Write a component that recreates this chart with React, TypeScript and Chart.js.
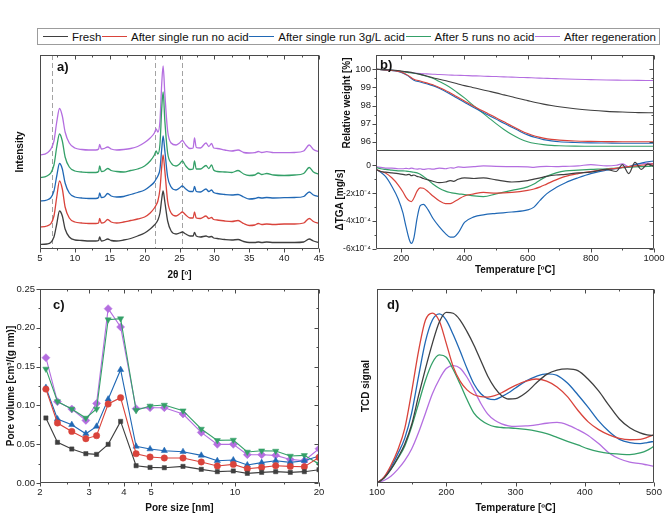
import React, { useEffect, useRef } from "react";
import { Chart, registerables } from "chart.js";
Chart.register(...registerables);

const FONT = '"Liberation Sans", Arial, sans-serif';

const seriesNames = ["Fresh", "After single run no acid", "After single run 3g/L acid", "After 5 runs no acid", "After regeneration"];
const seriesColors = ["#3f3f3f", "#d9433b", "#2068b5", "#34a068", "#b46ee0"];

// ---------- a) XRD ----------
const xrdTheta = [5, 6, 7, 7.4, 7.8, 8.2, 8.6, 9.2, 10, 11, 12, 13, 13.4, 13.55, 13.8, 14.2, 14.7, 15.2, 16, 17, 18, 19, 20, 20.8, 21.4, 21.65, 21.9, 22.2, 22.45, 22.65, 22.9, 23.3, 23.8, 24.5, 25.0, 25.4, 25.9, 26.5, 26.95, 27.15, 27.4, 28, 28.8, 29.2, 29.6, 29.9, 30.4, 31.5, 32.5, 33.4, 34.2, 35, 35.8, 36.3, 36.8, 37.5, 38.5, 40, 41.5, 42.8, 43.6, 44.2, 45];
const xrdFresh = [4.5, 5, 12, 25, 38, 33, 20, 12, 9, 8.5, 8, 8, 8.5, 12, 8, 8.5, 10, 8.5, 8, 9, 10.5, 13, 16, 20, 24, 26, 29, 36, 50, 58, 47, 28, 18, 15, 16, 17, 15, 13, 13, 16.5, 13, 12, 13, 12, 12.5, 11, 10.5, 9.5, 9, 9.5, 7.5, 6.5, 6.5, 7, 6.5, 7, 6.5, 6.5, 6.5, 7, 10, 8, 6.5];
const xrdNoAcid = [22, 23, 33, 52, 68, 60, 42, 31, 27, 26, 25.5, 25.5, 26, 30.5, 26, 26.5, 29.5, 27, 26, 27, 28.5, 30, 32, 36, 41, 44, 48, 60, 82, 94, 78, 48, 36, 33, 35, 37, 34, 31, 31, 37, 31, 30.5, 33, 30.5, 31.5, 29.5, 29, 28, 27.5, 28.5, 25.5, 23.5, 24, 25.5, 24.5, 25, 24.5, 25, 25, 26, 30.5, 27.5, 25.5];
const xrdAcid = [48, 49, 58, 73, 85.5, 80, 66, 56, 52, 51, 50.5, 50.5, 51.5, 56, 51.5, 52, 55.5, 53, 52, 52.5, 54.5, 56.5, 59, 63, 67, 70, 73, 80, 100, 113, 98, 72, 62, 59, 61, 63, 60, 57.5, 57.5, 62.5, 57.5, 57, 60, 57.5, 59, 56.5, 55.5, 54.5, 54, 54.5, 52, 50, 50.5, 51.5, 51, 51.5, 51, 51.3, 51.5, 52.5, 57, 54, 52.3];
const xrd5Runs = [71.5, 73, 84, 102, 115, 108, 92, 82, 78, 77, 76.5, 76.5, 77.5, 83, 77.5, 78, 80.5, 78.5, 77.5, 77, 78.5, 80, 83, 88, 94, 98, 95, 105, 140, 157, 128, 96, 86, 83, 85, 88, 83, 79.5, 80, 88, 80, 80, 83.5, 80.5, 84, 79, 77.5, 77, 76.5, 78.5, 75, 73.5, 74, 76, 74.5, 75.5, 74, 73.5, 74, 75.5, 81.5, 77, 74.7];
const xrdRegen = [94, 96, 108, 127, 140.5, 133, 117, 106, 101, 99.5, 99, 99, 100, 104.5, 100, 100.5, 102, 100, 99, 99.5, 100.5, 102.5, 106.5, 111, 116, 120, 117, 128, 165, 183, 155, 118, 106, 104, 106, 108.5, 104, 100.5, 101, 111, 101.5, 101, 106, 102.5, 105.5, 101, 100.5, 99, 98, 99, 96.5, 96, 96.3, 97.5, 96.5, 97.3, 96.3, 96.3, 96.5, 98, 104, 99.5, 97.3];
const xrdRefLines = [6.7, 21.5, 25.4];
const xrdTicks = [5, 10, 15, 20, 25, 30, 35, 40, 45];
const xrdMinor = [7.5, 12.5, 17.5, 22.5, 27.5, 32.5, 37.5, 42.5];

// ---------- b) TGA ----------
const tgaTemp = [120, 150, 180, 200, 220, 240, 260, 280, 300, 320, 350, 375, 400, 425, 450, 475, 500, 525, 550, 575, 600, 625, 650, 675, 700, 750, 800, 850, 900, 950, 1000];
const tgaFresh = [100, 99.98, 99.95, 99.91, 99.86, 99.8, 99.72, 99.63, 99.53, 99.45, 99.33, 99.22, 99.1, 99.0, 98.9, 98.8, 98.7, 98.59, 98.48, 98.37, 98.27, 98.17, 98.08, 98.0, 97.93, 97.82, 97.74, 97.68, 97.64, 97.61, 97.6];
const tgaNoAcid = [100, 99.97, 99.92, 99.85, 99.68, 99.45, 99.35, 99.25, 99.15, 99.0, 98.75, 98.5, 98.25, 98.0, 97.77, 97.55, 97.33, 97.1, 96.87, 96.65, 96.45, 96.3, 96.2, 96.13, 96.09, 96.04, 96.02, 96.01, 96.0, 96.0, 96.0];
const tgaAcid = [100, 99.97, 99.91, 99.83, 99.65, 99.4, 99.3, 99.2, 99.1, 98.95, 98.68, 98.43, 98.18, 97.93, 97.7, 97.48, 97.25, 97.02, 96.8, 96.58, 96.38, 96.23, 96.12, 96.05, 96.0, 95.96, 95.94, 95.93, 95.92, 95.92, 95.92];
const tga5Runs = [100, 99.97, 99.93, 99.88, 99.83, 99.78, 99.72, 99.62, 99.5, 99.33, 99.05, 98.75, 98.42, 98.05, 97.7, 97.35, 97.0, 96.68, 96.4, 96.17, 96.0, 95.9, 95.84, 95.8, 95.78, 95.76, 95.75, 95.75, 95.75, 95.75, 95.75];
const tgaRegen = [100, 99.97, 99.93, 99.88, 99.84, 99.8, 99.77, 99.75, 99.73, 99.71, 99.69, 99.67, 99.66, 99.64, 99.63, 99.61, 99.6, 99.58, 99.57, 99.55, 99.54, 99.52, 99.51, 99.49, 99.48, 99.45, 99.43, 99.41, 99.4, 99.39, 99.38];
const weightTicks = [96, 97, 98, 99, 100];
const weightMinor = [96.5, 97.5, 98.5, 99.5];

// ΔTGA in units of 1e-4 mg/s
const dtgaTemp = [120, 135, 150, 170, 190, 205, 215, 225, 232, 240, 250, 260, 270, 285, 300, 320, 340, 355, 365, 380, 400, 430, 460, 500, 550, 600, 620, 640, 660, 690, 720, 760, 800, 850, 880, 900, 920, 940, 960, 980, 1000];
const dtgaFresh = [-0.3, -0.45, -0.5, -0.55, -0.6, -0.65, -0.7, -0.65, -0.75, -0.7, -0.8, -0.85, -0.95, -1.05, -1.15, -1.25, -1.2, -1.1, -1.15, -1.0, -0.9, -0.95, -0.9, -1.05, -1.2, -1.1, -1.0, -0.9, -0.8, -0.7, -0.65, -0.55, -0.5, -0.3, -0.45, 0.05, -0.6, 0.2, -0.3, 0.1, -0.1];
const dtgaNoAcid = [-0.3, -0.45, -0.55, -0.9, -1.4, -1.9, -2.3, -2.55, -2.6, -2.35, -1.85, -1.62, -1.65, -1.9, -2.2, -2.55, -2.75, -2.75, -2.65, -2.45, -2.2, -2.05, -1.95, -2.0, -1.95, -1.8, -1.7, -1.55, -1.35, -1.05, -0.8, -0.6, -0.45, -0.3, -0.22, -0.15, -0.1, -0.05, 0, 0.05, 0.1];
const dtgaAcid = [-0.3, -0.5, -0.8, -1.5, -2.4, -3.4, -4.4, -5.3, -5.6, -5.2, -3.8, -2.9, -2.8, -3.2, -3.8, -4.4, -4.9, -5.15, -5.15, -4.85, -4.1, -3.7, -3.55, -3.45, -3.35, -3.2, -3.0, -2.5, -2.05, -1.6, -1.25, -0.9, -0.6, -0.35, -0.25, -0.15, -0.1, 0.05, 0.15, 0.25, 0.3];
const dtga5Runs = [-0.15, -0.25, -0.3, -0.35, -0.4, -0.4, -0.42, -0.45, -0.47, -0.5, -0.55, -0.65, -0.8, -1.05, -1.35, -1.65, -1.85, -1.95, -2.0, -2.05, -2.1, -2.2, -2.25, -2.05, -1.8, -1.55, -1.35, -1.05, -0.8, -0.55, -0.4, -0.35, -0.3, -0.25, -0.2, -0.18, -0.15, -0.12, -0.1, -0.08, -0.05];
const dtgaRegen = [-0.1, -0.15, -0.2, -0.2, -0.25, -0.25, -0.22, -0.25, -0.2, -0.25, -0.28, -0.25, -0.3, -0.25, -0.28, -0.2, -0.25, -0.18, -0.2, -0.12, -0.15, -0.1, -0.05, -0.08, -0.1, -0.12, -0.15, -0.1, -0.08, -0.1, -0.08, -0.05, 0.05, -0.05, 0, 0.1, -0.1, 0.05, 0.1, 0.15, 0.1];
const dtgaTicks = [-6, -4, -2, 0];
const dtgaMinor = [-5, -3, -1];
const tempTicks = [200, 400, 600, 800, 1000];
const tempMinor = [300, 500, 700, 900];

// ---------- c) Pore size distribution ----------
const poreSize = [2.1, 2.31, 2.6, 2.92, 3.19, 3.51, 3.89, 4.42, 4.96, 5.58, 6.51, 7.57, 8.64, 9.86, 11.07, 12.46, 13.99, 15.78, 17.72, 20.0];
const poreFresh = [0.0838, 0.0524, 0.0438, 0.0378, 0.0369, 0.0498, 0.0794, 0.0223, 0.0201, 0.0197, 0.0214, 0.0176, 0.0146, 0.0155, 0.0124, 0.0137, 0.0146, 0.0137, 0.0146, 0.0171];
const poreNoAcid = [0.121, 0.0773, 0.0665, 0.0571, 0.061, 0.1018, 0.11, 0.0378, 0.0335, 0.0322, 0.0322, 0.0271, 0.0219, 0.024, 0.0184, 0.0201, 0.0223, 0.0214, 0.021, 0.033];
const poreAcid = [0.123, 0.0825, 0.0751, 0.0635, 0.073, 0.108, 0.146, 0.0472, 0.0438, 0.0416, 0.0403, 0.0356, 0.0287, 0.0296, 0.0232, 0.0262, 0.0287, 0.0266, 0.0287, 0.0348];
const pore5Runs = [0.147, 0.105, 0.0954, 0.0838, 0.0954, 0.2105, 0.2118, 0.0936, 0.0993, 0.1005, 0.0932, 0.0696, 0.0549, 0.0554, 0.04, 0.0416, 0.0412, 0.0348, 0.0356, 0.0245];
const poreRegen = [0.1615, 0.1048, 0.0954, 0.0807, 0.1026, 0.2247, 0.2011, 0.0958, 0.097, 0.097, 0.0889, 0.0652, 0.0498, 0.0498, 0.0365, 0.0365, 0.0356, 0.0304, 0.0287, 0.0442];
const poreTicks = [2, 3, 4, 5, 10, 20];
const poreMinor = [2.5, 3.5, 4.5, 6, 7, 8, 9, 15];
const poreVolTicks = [0, 0.05, 0.1, 0.15, 0.2, 0.25];
const poreVolMinor = [0.025, 0.075, 0.125, 0.175, 0.225];

// ---------- d) TPR / TCD ----------
const tcdTemp = [100, 110, 120, 130, 140, 150, 160, 170, 180, 190, 200, 210, 220, 230, 240, 250, 260, 270, 280, 290, 300, 315, 330, 345, 360, 375, 390, 405, 420, 435, 450, 465, 480, 490, 500];
const tcdFresh = [0, 2.5, 7, 13, 20, 30, 45, 59, 72, 83, 88, 87.5, 84, 78, 71, 63, 55, 49, 45, 43.3, 43.5, 46.5, 51.5, 56, 58.2, 58.8, 57.9, 53.5, 47.5, 40, 33, 28.5, 25.8, 24.8, 24.5];
const tcdNoAcid = [0, 3, 9, 17, 28, 47, 68, 84, 87.6, 83.5, 72, 60, 52.5, 48, 45.5, 44.5, 44.3, 45, 46.5, 48.5, 50.3, 52.5, 53.6, 52.5, 49.5, 44.5, 37.5, 31.5, 27.5, 24.8, 23, 22.3, 22.5, 23.5, 24.9];
const tcdAcid = [0, 2.8, 8, 15, 23, 36, 55, 73, 84, 87.2, 84, 76.5, 68, 59, 51, 46, 43.5, 43, 44.5, 46.5, 49, 52.5, 55, 56.3, 55.5, 51.5, 45.5, 39, 32, 26.5, 22.5, 20.8, 20.3, 20.8, 21.5];
const tcd5Runs = [0, 2.5, 7, 12.5, 19, 29, 41, 53, 62, 66, 64.8, 58.5, 51, 43, 36, 32.5, 30.3, 29, 28.6, 28.4, 28.2, 27.6, 26.7, 25.4, 23.5, 21.5, 19.6, 17.6, 16.2, 15.3, 14.9, 14.6, 15.5, 16.8, 18.9];
const tcdRegen = [0, 1.3, 3.5, 7, 11.5, 17.5, 26, 36, 46, 53.5, 59, 60.5, 59.2, 54.5, 48, 41, 35.5, 32.3, 30.5, 29.5, 29.2, 29.4, 30, 30.8, 31.2, 30, 27.5, 24.5, 20.3, 15.5, 12.5, 10.8, 10, 9.3, 8.6];
const tcdTicks = [100, 200, 300, 400, 500];
const tcdMinor = [150, 250, 350, 450];

// ---------- helpers ----------
const tickFont = { family: FONT, size: 9.5 };
const titleFont = { family: FONT, size: 10, weight: "bold" as const };

const pts = (xs: number[], ys: number[]) => xs.map((x, i) => ({ x, y: ys[i] }));

function lineSets(xs: number[], list: number[][], width: number) {
  return list.map((ys, i) => ({
    label: seriesNames[i],
    data: pts(xs, ys),
    borderColor: seriesColors[i],
    backgroundColor: seriesColors[i],
    borderWidth: width,
    pointRadius: 0,
    cubicInterpolationMode: "monotone" as const,
  }));
}

function xAxis(o: any) {
  return {
    type: o.type || "linear",
    position: "bottom",
    display: o.display !== false,
    min: o.min,
    max: o.max,
    grid: { display: false, drawTicks: false },
    border: { display: false },
    ticks: {
      display: o.labels !== false,
      autoSkip: false,
      maxRotation: 0,
      padding: 4,
      color: "#222",
      font: tickFont,
      callback: (v: any) => String(v),
    },
    title: { display: !!o.title, text: o.title, font: titleFont, color: "#111", padding: { top: 0, bottom: o.titlePad || 0 } },
    afterBuildTicks: (s: any) => { s.ticks = o.ticks.map((v: number) => ({ value: v })); },
    afterFit: (s: any) => { s.height = o.size; s.paddingLeft = 0; s.paddingRight = 0; s.paddingTop = 0; s.paddingBottom = 0; },
  };
}

function yAxis(o: any) {
  return {
    type: "linear",
    position: "left",
    min: o.min,
    max: o.max,
    grid: { display: false, drawTicks: false },
    border: { display: false },
    ticks: {
      display: o.labels !== false,
      autoSkip: false,
      padding: 5,
      color: "#222",
      font: o.tickFont || tickFont,
      callback: o.fmt || ((v: any) => String(v)),
    },
    title: { display: !!o.title, text: o.title, font: titleFont, color: "#111", padding: { top: o.titlePad || 0, bottom: 0 } },
    afterBuildTicks: (s: any) => { s.ticks = (o.ticks || []).map((v: number) => ({ value: v })); },
    afterFit: (s: any) => { s.width = o.size; s.paddingLeft = 0; s.paddingRight = 0; s.paddingTop = 0; s.paddingBottom = 0; },
  };
}

const framePlugin = {
  id: "frame",
  beforeDatasetsDraw(chart: any, _a: any, o: any) {
    if (!o || !o.refLines) return;
    const { ctx, chartArea: ca, scales } = chart;
    ctx.save();
    ctx.strokeStyle = "#a3a3a3";
    ctx.lineWidth = 1;
    ctx.setLineDash([5, 3]);
    for (const v of o.refLines) {
      const x = Math.round(scales.x.getPixelForValue(v)) + 0.5;
      ctx.beginPath();
      ctx.moveTo(x, ca.top);
      ctx.lineTo(x, ca.bottom);
      ctx.stroke();
    }
    ctx.restore();
  },
  afterDraw(chart: any, _a: any, o: any) {
    const { ctx, chartArea: ca, scales } = chart;
    ctx.save();
    ctx.strokeStyle = "#4a4a4a";
    ctx.lineWidth = 1;
    const L = Math.round(ca.left) + 0.5, R = Math.round(ca.right) - 0.5;
    const T = Math.round(ca.top) + 0.5, B = Math.round(ca.bottom) - 0.5;
    ctx.beginPath();
    if (!o.noTop) { ctx.moveTo(L, T); ctx.lineTo(R, T); }
    ctx.moveTo(R, T - 0.5); ctx.lineTo(R, B);
    ctx.lineTo(L, B);
    ctx.moveTo(L, B); ctx.lineTo(L, T - 0.5);
    ctx.stroke();
    ctx.beginPath();
    const seg = (x1: number, y1: number, x2: number, y2: number) => { ctx.moveTo(x1, y1); ctx.lineTo(x2, y2); };
    const xs = (vals: number[] | undefined, len: number) => {
      for (const v of vals || []) {
        const x = Math.round(scales.x.getPixelForValue(v)) + 0.5;
        if (o.xBottom) seg(x, B, x, B + len);
        if (o.xTop) seg(x, T, x, T + len);
      }
    };
    const ys = (vals: number[] | undefined, len: number) => {
      for (const v of vals || []) {
        const y = Math.round(scales.y.getPixelForValue(v)) + 0.5;
        if (o.yLeft) seg(L - len, y, L, y);
        if (o.yRight) seg(R - len, y, R, y);
      }
    };
    xs(o.xTicks, 4); xs(o.xMinor, 2);
    ys(o.yTicks, 4); ys(o.yMinor, 2);
    ctx.stroke();
    if (o.label) {
      ctx.fillStyle = "#111";
      ctx.font = `bold 13px ${FONT}`;
      ctx.textBaseline = "alphabetic";
      ctx.fillText(o.label, ca.left + o.lx, ca.top + o.ly);
    }
    ctx.restore();
  },
};

function baseOptions(padding: any, scales: any, frame: any) {
  return {
    responsive: false,
    animation: false,
    devicePixelRatio: 1,
    layout: { padding, autoPadding: false },
    plugins: { legend: { display: false }, tooltip: { enabled: false }, frame },
    scales,
  };
}

export default function App() {
  const refA = useRef<HTMLCanvasElement>(null);
  const refB1 = useRef<HTMLCanvasElement>(null);
  const refB2 = useRef<HTMLCanvasElement>(null);
  const refC = useRef<HTMLCanvasElement>(null);
  const refD = useRef<HTMLCanvasElement>(null);

  useEffect(() => {
    const charts: Chart[] = [];

    // a) XRD
    charts.push(new Chart(refA.current as HTMLCanvasElement, {
      type: "line",
      data: { datasets: lineSets(xrdTheta, [xrdFresh, xrdNoAcid, xrdAcid, xrd5Runs, xrdRegen], 1.3) as any },
      options: baseOptions({ left: 0, top: 7, right: 13, bottom: 0 }, {
        x: xAxis({ min: 5, max: 45, ticks: xrdTicks, size: 41, title: "2θ [º]", titlePad: 9 }),
        y: yAxis({ min: 0, max: 194, ticks: [], labels: false, size: 40, title: "Intensity", titlePad: 14 }),
      }, { label: "a)", lx: 17, ly: 16, xTicks: xrdTicks, xMinor: xrdMinor, xBottom: true, xTop: true, refLines: xrdRefLines }) as any,
      plugins: [framePlugin as any],
    }));

    // b) TGA top
    charts.push(new Chart(refB1.current as HTMLCanvasElement, {
      type: "line",
      data: { datasets: lineSets(tgaTemp, [tgaFresh, tgaNoAcid, tgaAcid, tga5Runs, tgaRegen], 1.1) as any },
      options: baseOptions({ left: 0, top: 7, right: 13, bottom: 0 }, {
        x: xAxis({ min: 120, max: 1000, ticks: tempTicks, size: 0, display: false }),
        y: yAxis({ min: 95.49, max: 100.79, ticks: weightTicks, size: 46, title: "Relative weight [%]", titlePad: 11 }),
      }, { label: "b)", lx: 4, ly: 13.5, xTicks: tempTicks, xMinor: tempMinor, xTop: true, yTicks: weightTicks, yMinor: weightMinor, yLeft: true, yRight: true }) as any,
      plugins: [framePlugin as any],
    }));

    // b) ΔTGA bottom
    charts.push(new Chart(refB2.current as HTMLCanvasElement, {
      type: "line",
      data: { datasets: lineSets(dtgaTemp, [dtgaFresh, dtgaNoAcid, dtgaAcid, dtga5Runs, dtgaRegen], 1.2) as any },
      options: baseOptions({ left: 0, top: 0, right: 13, bottom: 0 }, {
        x: xAxis({ min: 120, max: 1000, ticks: tempTicks, size: 36, title: "Temperature [ºC]", titlePad: 9 }),
        y: yAxis({ min: -6, max: 1.02, ticks: dtgaTicks, size: 46, title: "ΔTGA [mg/s]", titlePad: 4,
          tickFont: { family: FONT, size: 8.5 },
          fmt: (v: any) => (v === 0 ? "0" : `${v}x10⁻⁴`) }),
      }, { noTop: true, xTicks: tempTicks, xMinor: tempMinor, xBottom: true, yTicks: dtgaTicks, yMinor: dtgaMinor, yLeft: true, yRight: true }) as any,
      plugins: [framePlugin as any],
    }));

    // c) pore size distribution
    const markerStyles = ["rect", "circle", "triangle", "triangle", "rectRot"];
    const markerRot = [0, 0, 0, 180, 0];
    const markerRad = [3, 3.2, 3.6, 3.6, 4];
    const poreSeries = [poreFresh, poreNoAcid, poreAcid, pore5Runs, poreRegen];
    charts.push(new Chart(refC.current as HTMLCanvasElement, {
      type: "line",
      data: {
        datasets: poreSeries.map((ys, i) => ({
          label: seriesNames[i],
          data: pts(poreSize, ys),
          borderColor: seriesColors[i],
          backgroundColor: seriesColors[i],
          borderWidth: 1.1,
          pointStyle: markerStyles[i],
          rotation: markerRot[i],
          pointRadius: markerRad[i],
          pointBorderWidth: 0.5,
          pointBackgroundColor: seriesColors[i],
          pointBorderColor: seriesColors[i],
          tension: 0,
        })) as any,
      },
      options: baseOptions({ left: 0, top: 11, right: 13, bottom: 0 }, {
        x: xAxis({ type: "logarithmic", min: 2, max: 20, ticks: poreTicks, size: 41, title: "Pore size [nm]", titlePad: 10 }),
        y: yAxis({ min: 0, max: 0.25, ticks: poreVolTicks, size: 40, title: "Pore volume [cm³/(g nm)]", titlePad: 5,
          fmt: (v: any) => Number(v).toFixed(2) }),
      }, { label: "c)", lx: 13, ly: 20, xTicks: poreTicks, xMinor: poreMinor, xBottom: true, xTop: true, yTicks: poreVolTicks, yMinor: poreVolMinor, yLeft: true, yRight: true }) as any,
      plugins: [framePlugin as any],
    }));

    // d) TCD
    charts.push(new Chart(refD.current as HTMLCanvasElement, {
      type: "line",
      data: { datasets: lineSets(tcdTemp, [tcdFresh, tcdNoAcid, tcdAcid, tcd5Runs, tcdRegen], 1.3) as any },
      options: baseOptions({ left: 0, top: 11, right: 13, bottom: 0 }, {
        x: xAxis({ min: 100, max: 500, ticks: tcdTicks, size: 41, title: "Temperature [ºC]", titlePad: 10 }),
        y: yAxis({ min: 0, max: 100, ticks: [], labels: false, size: 47, title: "TCD signal", titlePad: 30.7 }),
      }, { label: "d)", lx: 10, ly: 20, xTicks: tcdTicks, xMinor: tcdMinor, xBottom: true, xTop: true }) as any,
      plugins: [framePlugin as any],
    }));

    return () => charts.forEach((c) => c.destroy());
  }, []);

  const cv = (left: number, top: number): React.CSSProperties => ({ position: "absolute", left, top });

  return (
    <div style={{ position: "absolute", left: 0, top: 0, width: 667, height: 524, background: "#fff", overflow: "hidden", fontFamily: FONT }}>
      <div style={{
        position: "absolute", left: 37, top: 28, width: 623, height: 17, boxSizing: "border-box",
        border: "1px solid #9c9c9c", display: "flex", alignItems: "center", justifyContent: "space-between",
        padding: "0 3px 0 5px", fontSize: 11.5, color: "#111", whiteSpace: "nowrap",
      }}>
        {seriesNames.map((n, i) => (
          <div key={n} style={{ display: "flex", alignItems: "center" }}>
            <span style={{ display: "inline-block", width: 25, height: 0, borderTop: `1.5px solid ${seriesColors[i]}`, marginRight: 4 }} />
            <span>{n}</span>
          </div>
        ))}
      </div>
      <canvas ref={refA} width={332} height={242} style={cv(0, 48)} />
      <canvas ref={refB1} width={337} height={103} style={cv(330, 48)} />
      <canvas ref={refB2} width={337} height={134} style={cv(330, 151)} />
      <canvas ref={refC} width={332} height={246} style={cv(0, 278)} />
      <canvas ref={refD} width={337} height={246} style={cv(330, 278)} />
    </div>
  );
}
